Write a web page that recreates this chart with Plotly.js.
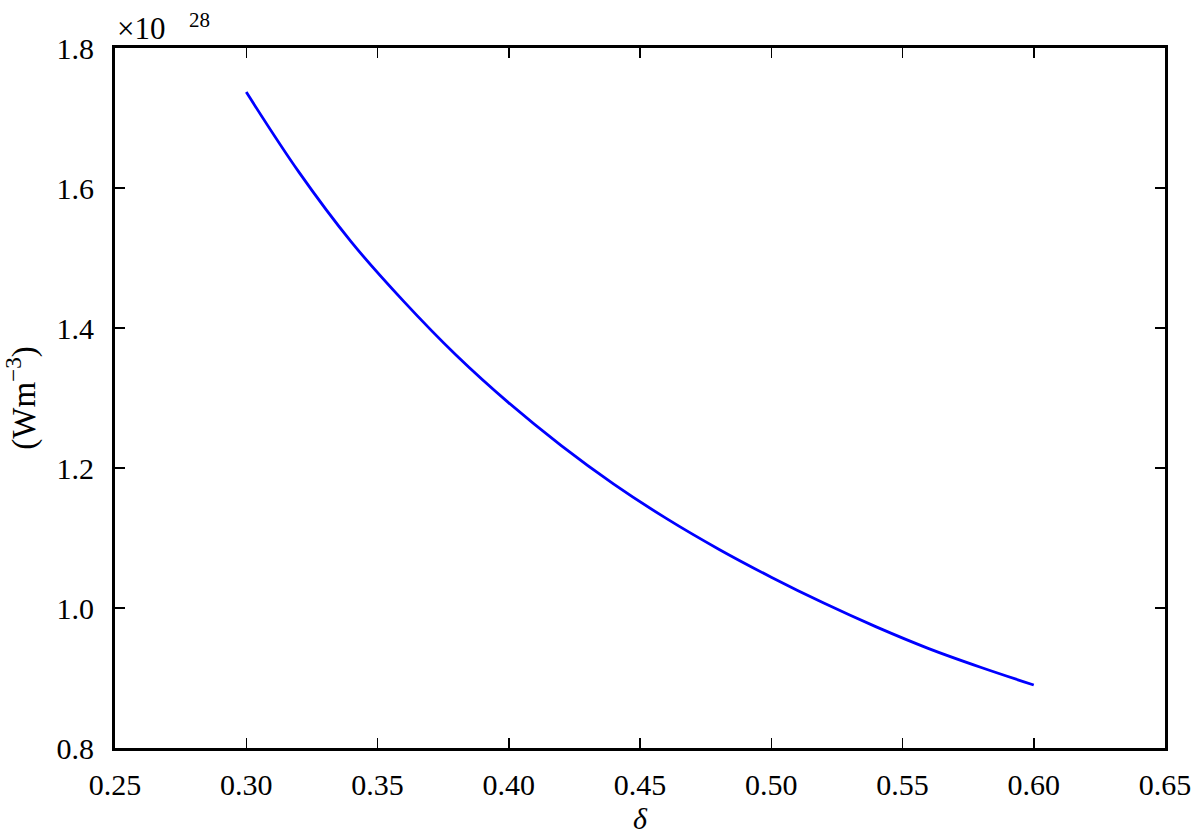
<!DOCTYPE html>
<html>
<head>
<meta charset="utf-8">
<script src="https://cdn.plot.ly/plotly-3.0.1.min.js"></script>
<style>
  body { margin: 0; background: #fff; }
  #plot { width: 1200px; height: 840px; }
</style>
</head>
<body>
<div id="plot"></div>
<script>
// delta values and the power density (in units of 1e28 W m^-3)
var delta = [0.30, 0.32, 0.34, 0.36, 0.38, 0.40, 0.42, 0.44, 0.46, 0.48, 0.50, 0.52, 0.54, 0.56, 0.58, 0.60];
var power = [1.737, 1.623, 1.523, 1.438, 1.361, 1.293, 1.232, 1.177, 1.128, 1.084, 1.044, 1.007, 0.973, 0.942, 0.915, 0.890];

var xTicks = [0.25, 0.30, 0.35, 0.40, 0.45, 0.50, 0.55, 0.60, 0.65];
var yTicks = [0.8, 1.0, 1.2, 1.4, 1.6, 1.8];

var serif = "Liberation Serif, DejaVu Serif, serif";

var data = [{
    x: delta,
    y: power,
    type: 'scatter',
    mode: 'lines',
    line: { color: '#0000ff', width: 2.8, shape: 'spline', smoothing: 1 },
    hoverinfo: 'x+y'
}];

var layout = {
    width: 1200,
    height: 840,
    paper_bgcolor: '#fff',
    plot_bgcolor: '#fff',
    showlegend: false,
    margin: { l: 115, r: 35, t: 48, b: 92 },
    xaxis: {
        range: [0.25, 0.65],
        tickmode: 'array',
        tickvals: xTicks,
        ticktext: xTicks.map(function (v) { return v.toFixed(2); }),
        tickfont: { family: serif, size: 30, color: '#000' },
        ticklabelstandoff: 8,
        showgrid: false, zeroline: false,
        showline: true, linecolor: '#000', linewidth: 3, mirror: 'ticks',
        ticks: 'inside', ticklen: 10, tickwidth: 1.5, tickcolor: '#000',
        title: { text: '<i>δ</i>', font: { family: serif, size: 30, color: '#000' }, standoff: 8 }
    },
    yaxis: {
        range: [0.8, 1.8],
        tickmode: 'array',
        tickvals: yTicks,
        ticktext: yTicks.map(function (v) { return v.toFixed(1); }),
        tickfont: { family: serif, size: 30, color: '#000' },
        ticklabelstandoff: 12,
        showgrid: false, zeroline: false,
        showline: true, linecolor: '#000', linewidth: 3, mirror: 'ticks',
        ticks: 'inside', ticklen: 10, tickwidth: 1.5, tickcolor: '#000',
        title: { text: '(Wm<sup>−3</sup>)', font: { family: serif, size: 33, color: '#000' }, standoff: 12 }
    },
    annotations: [
        {
            text: '×10', xref: 'paper', yref: 'paper', x: 0, y: 1,
            xanchor: 'left', yanchor: 'bottom', xshift: 0, yshift: 0, showarrow: false,
            font: { family: serif, size: 31, color: '#000' }
        },
        {
            text: '28', xref: 'paper', yref: 'paper', x: 0, y: 1,
            xanchor: 'left', yanchor: 'bottom', xshift: 72, yshift: 14, showarrow: false,
            font: { family: serif, size: 21, color: '#000' }
        }
    ]
};

Plotly.newPlot('plot', data, layout, { displayModeBar: false, staticPlot: true });
</script>
</body>
</html>
